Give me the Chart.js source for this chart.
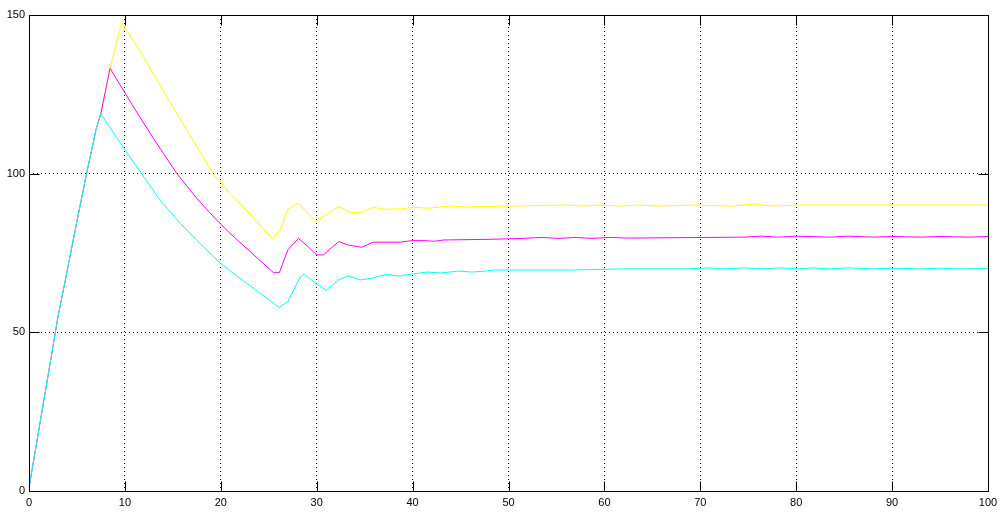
<!DOCTYPE html>
<html><head><meta charset="utf-8">
<script src="https://cdn.jsdelivr.net/npm/chart.js@4.4.1/dist/chart.umd.min.js"></script>
<style>html,body{margin:0;padding:0;background:#fff;overflow:hidden}canvas{display:block}</style>
</head><body>
<canvas id="c" width="1004" height="513"></canvas>
<script>
// ---- data ----
const xTickValues = [0,10,20,30,40,50,60,70,80,90,100];
const yTickValues = [0,50,100,150];

const cyanT = [0,1,2,3,4,5,6,7,7.5, 10,13.66,15.4,17.5,19.9,20.96,23,25,26.1,27, 28.3,28.7,30,31,32.3,33.3,34.5,35.7,37.3,38.7, 39,40.1,41.5,42.9,43.9,44.8,46.2,47.6,48.5,56.9, 62,68.6,70.7,72.6,74.6,76.4,78.2,80.1,81.8,83.5, 85.5,88,90,93,95,97,100];
const cyanV = [1,18.8,36.6,54.5,69.7,85,100,114,118.8, 107.5,91.7,85.6,79,71.9,69.4,64.8,60.3,57.8,59.7, 67.5,68.3,65.2,63.3,66.5,67.8,66.5,67,68.3,67.7, 68,68.4,69,68.7,69,69.3,69,69.3,69.65,69.65, 70,70,70.3,70,70.3,70,70.3,70,70.3,70, 70.3,70,70.2,70,70.2,70,70.1];

const magentaT = [0,1,2,3,4,5,6,7,7.5, 8.45,10.88,13,15.4,17.5,19.4,20.96,23,25.5,26.1, 27,28.1,29.1,30,30.7,32.3,33.3,34.7,35.9,38.7, 39.9,41.1,42.3,43.2,47.9,51.5,53.5,55.2,56.9,58.7, 60.6,62.5,74.5,76.4,78.1,80.1,83.5,85.4,88,90, 93,95,98,100];
const magentaV = [1,18.8,36.6,54.5,69.7,85,100,114,119, 133.2,121.1,111,100.1,92.2,85.9,81.2,75.6,68.8,68.8, 76,79.6,77,74.4,74.4,78.6,77.5,76.8,78.4,78.4, 78.9,78.9,78.7,79.1,79.3,79.6,79.9,79.6,79.9,79.6, 79.9,79.7,80,80.3,80,80.3,80,80.3,80,80.2, 80,80.2,80,80.2];

const yellowT = [0,1,2,3,4,5,6,7,7.5, 8.45,9.67,11.92,14.36,17,19.2,20.96,23,25.4, 26.2,27,28.1,29.9,32.3,33.5,34.7,35.9,37,38.7, 40.1,41.7,43.8,45.4,50,56,57.8,59.6,61.6,63.5, 65.5,69.5,73.3,74.5,75.45,76.4,77.5,80,100];
const yellowV = [1,18.8,36.6,54.5,69.7,85,100,114,119, 133.2,147.6,136.9,124.3,111,100,93.8,87.4,79.4, 82.2,88.8,90.7,84.9,89.6,87.8,87.8,89.4,88.8,88.9, 89.4,89.1,89.8,89.5,89.8,90.1,89.8,90.1,89.8,90.1, 89.8,90.1,89.8,90.1,90.45,90.1,89.8,90.1,90.1];

const zip = (t, v) => t.map((x, i) => ({x: x, y: v[i]}));

// frame + inward tick marks, positioned through the chart's scales
const framePlugin = {
  id: 'frame',
  afterDraw(chart) {
    const {ctx, chartArea: a, scales: {x, y}} = chart;
    ctx.save();
    ctx.strokeStyle = '#000';
    ctx.lineWidth = 1;
    ctx.beginPath();
    const L = Math.round(a.left) + 0.5, R = Math.round(a.right) + 0.5;
    const T = Math.round(a.top) + 0.5, B = Math.round(a.bottom) + 0.5;
    ctx.rect(L, T, R - L, B - T);
    const len = 10;
    xTickValues.forEach(v => {
      const px = Math.round(x.getPixelForValue(v)) + 0.5;
      ctx.moveTo(px, B); ctx.lineTo(px, B - len);
      ctx.moveTo(px, T); ctx.lineTo(px, T + len);
    });
    yTickValues.forEach(v => {
      const py = Math.round(y.getPixelForValue(v)) + 0.5;
      ctx.moveTo(L, py); ctx.lineTo(L + len, py);
      ctx.moveTo(R, py); ctx.lineTo(R - len, py);
    });
    ctx.stroke();
    ctx.restore();
  }
};

const font = {family: '"Liberation Sans", Arial, sans-serif', size: 11};

new Chart(document.getElementById('c'), {
  type: 'line',
  data: {
    datasets: [
      {data: zip(cyanT, cyanV), borderColor: '#00ffff'},
      {data: zip(magentaT, magentaV), borderColor: '#ff00ff'},
      {data: zip(yellowT, yellowV), borderColor: '#ffff00'}
    ]
  },
  options: {
    responsive: false,
    devicePixelRatio: 1,
    animation: false,
    events: [],
    layout: {padding: {top: 15, right: 16, left: 0, bottom: 0}},
    elements: {
      line: {borderWidth: 1, tension: 0, fill: false},
      point: {radius: 0, hoverRadius: 0}
    },
    plugins: {legend: {display: false}, tooltip: {enabled: false}, title: {display: false}},
    scales: {
      x: {
        type: 'linear', min: 0, max: 100,
        afterBuildTicks: s => { s.ticks = xTickValues.map(v => ({value: v})); },
        afterFit: s => { s.height = 22; },
        ticks: {color: '#000', font: font, padding: 5, maxRotation: 0, autoSkip: false},
        grid: {color: '#000', lineWidth: 1, drawTicks: false, borderDash: [1, 3]},
        border: {display: false, dash: [1, 3]}
      },
      y: {
        type: 'linear', min: 0, max: 150,
        afterBuildTicks: s => { s.ticks = yTickValues.map(v => ({value: v})); },
        afterFit: s => { s.width = 29; },
        ticks: {color: '#000', font: font, padding: 4, autoSkip: false},
        grid: {color: '#000', lineWidth: 1, drawTicks: false},
        border: {display: false, dash: [1, 3]}
      }
    }
  },
  plugins: [framePlugin]
});
</script>
</body></html>
